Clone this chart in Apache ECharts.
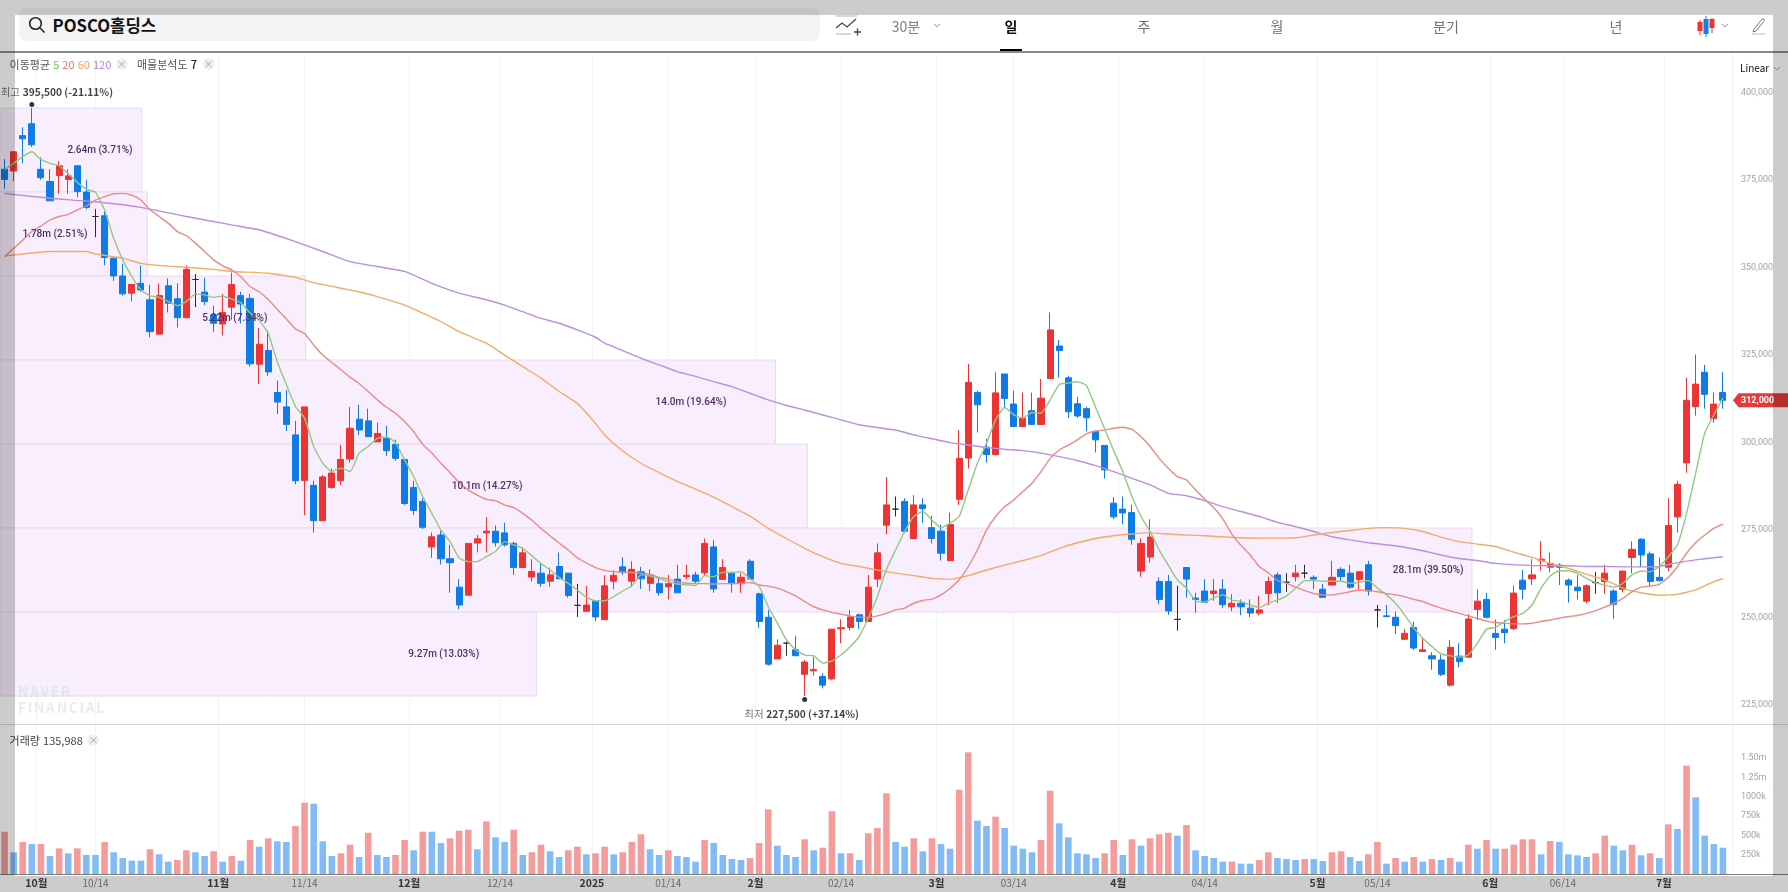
<!DOCTYPE html>
<html lang="ko"><head><meta charset="utf-8">
<title>POSCO홀딩스</title>
<script src="https://cdn.jsdelivr.net/npm/echarts@6/dist/echarts.min.js"></script>
<style>
html,body{margin:0;padding:0;background:#fff;width:1788px;height:892px;overflow:hidden;font-family:"Noto Sans CJK KR","Noto Sans",sans-serif}
#chart{position:absolute;left:0;top:0;width:1788px;height:892px}
.t{position:absolute;white-space:nowrap;line-height:1;transform:translate(-50%,-50%)}
.l{position:absolute;white-space:nowrap;line-height:1}
.x{position:absolute;width:12px;height:12px;border-radius:50%;background:#f1f1f3;color:#a8a8a8;font-size:10px;line-height:12px;text-align:center;transform:translate(-50%,-50%)}
.o{position:absolute;background:rgba(0,0,0,.2)}
svg{position:absolute}
</style></head><body>
<div id="chart"></div>
<div class="l" style="left:19px;top:8px;width:801px;height:33px;background:#f2f4f6;border-radius:7px"></div>
<svg style="left:27px;top:15px" width="20" height="20" viewBox="0 0 20 20" fill="none" stroke="#222" stroke-width="1.6"><circle cx="8.5" cy="8.5" r="5.8"/><path d="M13 13l4.5 4.5"/></svg>
<div class="l" style="left:52.5px;top:17px;font-size:16.7px;font-weight:700;color:#111">POSCO홀딩스</div>
<svg style="left:835px;top:15px" width="26" height="22" viewBox="0 0 26 22" fill="none" stroke="#444" stroke-width="1.3"><path d="M1 1h21M1 19h15" stroke="#ccc"/><path d="M1 13l6-5 5 4 9-8"/><path d="M19 17h7M22.5 13.5v7"/></svg>
<div class="t" style="left:906px;top:26px;font-size:14px;color:#7c7f84">30분</div>
<svg style="left:933px;top:23px" width="8" height="6"><path d="M1 1l3 3 3-3" fill="none" stroke="#999"/></svg>
<div class="t" style="left:1011px;top:26px;font-size:14px;font-weight:700;color:#111">일</div>
<div class="l" style="left:1000px;top:48.5px;width:22px;height:3.5px;background:#000"></div>
<div class="t" style="left:1144px;top:26px;font-size:14px;color:#6e7176">주</div>
<div class="t" style="left:1277px;top:26px;font-size:14px;color:#6e7176">월</div>
<div class="t" style="left:1446px;top:26px;font-size:14px;color:#6e7176">분기</div>
<div class="t" style="left:1616px;top:26px;font-size:14px;color:#6e7176">년</div>
<svg style="left:1696px;top:15px" width="20" height="22"><path d="M4 5v15M16 3v15" stroke="#e33" /><rect x="1.5" y="7" width="5" height="9" fill="#ec3434"/><rect x="13.5" y="4" width="5" height="9" fill="#ec3434"/><path d="M10 1v21" stroke="#1380e8"/><rect x="7.5" y="4" width="5" height="15" fill="#1380e8"/></svg>
<svg style="left:1721px;top:23px" width="8" height="6"><path d="M1 1l3 3 3-3" fill="none" stroke="#999"/></svg>
<svg style="left:1751px;top:17px" width="16" height="18" fill="none" stroke="#777" stroke-width="1"><path d="M3 12L11 2c1-1 3 .5 2 2L5 14l-3 1z"/><path d="M1 17h13" stroke="#bbb"/></svg>
<div class="l" style="left:0;top:51px;width:1788px;height:1.5px;background:#8a8a8a"></div>

<div class="l" style="left:9.6px;top:58.5px;font-size:11px;color:#555">이동평균 <span style="color:#76bd62">5</span> <span style="color:#ea6f6a">20</span> <span style="color:#f0a455">60</span> <span style="color:#b283d6">120</span></div>
<div class="x" style="left:121.7px;top:64px">×</div>
<div class="l" style="left:137px;top:58.5px;font-size:11px;color:#555">매물분석도 <b style="color:#222;font-weight:500">7</b></div>
<div class="x" style="left:208.6px;top:64px">×</div>
<div class="l" style="left:1740px;top:63px;font-size:10px;color:#111">Linear</div>
<svg style="left:1773px;top:66px" width="8" height="6"><path d="M1 1l3 3 3-3" fill="none" stroke="#aaa"/></svg>
<div class="l" style="left:18px;top:683px;font-size:14px;line-height:16px;font-weight:700;color:rgba(212,220,228,.55);letter-spacing:1.6px">NAVER<br>FINANCIAL</div>
<div class="l" style="left:0;top:723.5px;width:1788px;height:1.5px;background:#d6d6e2"></div>
<div class="l" style="left:9.6px;top:734.5px;font-size:11px;color:#444">거래량 135,988</div>
<div class="x" style="left:93.4px;top:740px">×</div>
<div class="l" style="left:0;top:873.5px;width:1788px;height:1.2px;background:#7c7c7c"></div>
<div class="l" style="left:0;top:876px;width:1788px;height:16px;background:#eceff3;z-index:-1"></div>
<div class="o" style="left:0;top:0;width:1788px;height:15px"></div>
<div class="o" style="left:0;top:876px;width:1788px;height:16px"></div>
<div class="o" style="left:0;top:15px;width:15px;height:861px"></div>
<div class="o" style="left:1773px;top:15px;width:15px;height:861px"></div>
<script>
// Prices are in thousands of won.
const opens=[378,377.5,387.6,391,378,374.5,376.2,375.1,379,371.5,364.5,364.7,352.6,347.5,342.6,345.4,340.7,330.9,344.7,341,335.6,346.5,342.9,336.4,333.8,338.6,341.9,341.1,322.3,326.2,314.2,310.1,302.1,289.1,287.7,277.6,287.1,289,295.2,306.6,306.1,300.1,301.1,299.4,295.1,287.1,283.1,270.1,273.5,266.7,258.6,256.3,271.2,274.1,274.6,274.1,271.1,264.2,261.5,262.6,260.3,264.5,262.6,253.4,251.7,254.6,249.3,260.3,264.4,260.3,263,259.7,259.6,258.7,260.9,261.6,262.1,262.7,270.1,260.8,262.6,259.6,266,256.7,250,238.1,242.6,240.7,233.7,234.7,233.1,232.4,246.7,247.1,250.7,248.8,260.9,276.3,280.9,283.1,272.5,282.1,275.6,274.6,266.2,283.7,295.5,314.2,298.6,296.5,319.5,310.9,304.5,309,305.1,318.2,327.5,318.4,311,309.6,303.1,299.1,282.6,280.9,279.9,263.2,267.2,260.2,260.2,249.4,264.2,255.5,257.5,256.8,258,253,254,252.6,251.2,256.8,262.1,260,261.6,262.6,261.4,258,259.2,263.7,262.6,260.8,265,252.1,250.4,250,243.7,247.1,240.2,239,237.8,230.6,238.9,238.6,252.2,255.1,245.4,246.6,246.8,260.6,261,266.2,264.3,264.9,260.6,258.6,254.6,259.9,260.2,257.5,258,267.1,272.3,268.1,261.4,264.3,278.7,294.1,310.2,320,306.8,314.2];
const closes=[375.1,383,386.7,385,375.6,369,379,376.1,371.6,367.1,364.5,352.8,347.5,342.4,345.1,343.5,331.6,341.9,339.7,335.6,349.4,346.5,340.2,334,337.1,345.1,339.5,322.4,328,320.1,311.5,305.1,289,310.1,277.6,290.1,291.2,295.1,304,303.5,301.6,302.5,297.6,295.4,282.5,280.5,275.7,273,266.7,265.6,253.5,271.1,272.4,274.6,271.3,270.7,264.2,268.4,263.1,259.7,262.1,261,256.2,253.4,253.5,250.1,259,262,262.8,263.7,261,262.1,257,259.6,257,262,260.3,271.1,258.1,264.2,259.6,261.4,260.9,248.8,236.6,242,242.6,239,237.2,235.1,230.6,246.6,247,250.1,248.8,258.6,268.4,282.1,280.9,274.6,282.1,281,272.5,268.3,276.5,295.4,317.1,310.7,296.5,314.1,312.5,304.5,306.9,305.1,312.6,332.1,326.2,308.7,307.5,307,300.7,292.1,278.7,279.8,272.3,271.1,272.9,255.1,251.8,249.4,260.9,255.1,254.3,257.5,253.6,254,253,251.2,252.1,260.2,257,260,262.6,262.6,260.9,255.7,261.4,261.6,258.6,263,257.5,252.1,250.2,247.6,245.4,241.2,240.7,238.1,233.7,241.4,237.3,249.5,254.6,250,244.2,245.6,256.9,258,262.1,266.6,265.4,264.3,259.2,257.6,259,259.9,262.6,253.7,263.2,269.4,267.8,260.2,260.5,276.2,288,312,316.6,313.7,310.9,312];
const lows=[372.4,374.6,379.7,384.4,375,369,371,371,370,366.6,358.6,350.6,346.1,341.9,340.2,343,330,330.6,337.1,332.8,335.6,338.6,339.2,331.6,330.5,335,334,321.6,316.6,319,308.1,303.2,288,279.2,274.2,277.6,286.7,287.8,294.2,302.1,301.6,300.1,296.1,294.7,282.1,279.2,275.2,267,265.1,257,252.3,256.3,268.5,268.5,270.2,270.2,262.1,264.2,260.2,258.7,258.7,260.9,255.6,250.1,251.6,248.8,249.3,258,262.1,258.6,258.1,257.5,256.2,255.1,257,260.9,259.5,261.9,257,260.8,257,257,260.7,247,236.2,238.1,239,239,227.5,233.3,229.7,232.1,242.6,246.2,246.7,248.8,258.6,273.7,278.8,274,272.3,277,271.1,266.2,266.2,282.1,292.5,302.8,294.2,296.2,309.7,304.5,304.5,305.1,305.1,318.2,318.5,307,307,303.2,297.1,289.6,278.1,276.6,270.7,261.6,265.6,253.7,250.7,246.2,255.6,251.3,254.3,254.7,252.7,251.7,250.6,250,250.6,253.5,254.1,257.2,260.2,261.1,258,255.7,259.2,260.2,258.2,258,256.2,247.1,250,245.2,243.7,240.7,240.2,235,233.2,230.2,235.7,238.6,249.2,249.6,240.7,242.6,246.4,255.1,259.2,263.3,262.8,259.2,254.2,255.1,254,256.7,256.7,249.6,257.1,262.6,264.3,258.9,260.2,263.2,274.2,291.3,307.6,309.6,305.6,309.6];
const highs=[380.9,383,390,395.5,381.4,378,380.3,378,379,375,366.6,365.9,352.8,351,345.1,350.5,345,345.4,346.8,345.4,350.5,348.1,347,339,342.4,348.5,343,342.4,332.6,331.9,317.6,314.9,306.1,310.1,289,290.7,292.5,299.2,310.1,310.7,309.6,305.6,304.7,300.7,295.1,289,284,274.2,274.7,270.7,260.9,271.1,273.5,278.6,276.2,277,271.6,270,266.6,265.4,264.2,268.5,262.6,259.5,259,254.6,262,263.4,267.1,266,264.4,263.7,261.4,262.1,265,265,263,272.5,272.1,266.6,263,262.6,266.6,257,252.1,243.7,243,244.7,237.8,238.6,234,246.6,249.4,252.1,251.1,262.1,271.1,290,284.5,284,284.9,284,279,276.4,279.9,303.5,322.4,314.7,301,320,319.5,314.7,314.2,314.2,318.1,337.1,329.2,319,313,310.2,303.1,299.1,284.3,284.5,282.1,272.5,278,261.4,262.1,259,264.2,257,260.9,260.9,260.9,256.6,255.1,255.1,256.1,261.6,262.8,262.6,265,265,262,259.5,266.1,264.3,265,263,266.1,253.5,253.5,251.6,246.6,248.7,244.2,240,239.2,243.5,242.6,250.9,258,257,249.4,249.2,259,263.5,266.6,271.7,268.5,265.4,261.1,262.1,259.4,263,265,258,263.2,271.7,272.5,268.8,267.1,284,289,318.5,325.1,322.1,314.2,320];
// Volumes in thousands of shares and the colour each bar has (R red, B blue).
const volumes=[548,281,415,389,389,233,332,268,332,246,246,415,281,207,173,173,320,255,160,181,307,281,233,294,160,233,173,440,354,462,423,415,622,924,911,423,233,268,380,220,535,246,220,246,440,307,548,548,402,462,561,574,320,682,475,415,574,246,281,380,294,220,307,354,255,268,354,255,281,415,514,320,246,307,233,220,160,440,402,246,194,181,207,402,838,367,246,220,449,307,341,812,268,268,181,527,596,1045,415,354,462,294,462,389,328,1092,1576,691,622,743,596,367,328,281,440,1080,656,475,268,255,207,268,440,246,449,367,462,514,535,497,635,307,233,207,160,160,134,134,181,281,207,194,181,194,194,168,281,294,220,168,255,415,134,207,160,220,160,194,181,207,160,380,328,440,328,328,380,449,449,255,427,415,255,242,220,268,497,367,307,380,242,268,207,643,583,1403,993,497,389,341];
const volumeSides=("RBRBRBRBRB"+"BRBBBBRBBR"+"RBBRBRBRBR"+"BBRRBBBRRB"+"RBBRRBRBBR"+"RRBRBBRBRR"+"BBRRBRRBRR"+"RBBRBBBRBB"+"BBRRRBBBRB"+"RRBRBRRRBB"+"RBRBBRRBBR"+"BBBBRRBBBB"+"BRRBRBRRRB"+"RBBBBRBBRR"+"BBBRBBRRBB"+"RRBRBRBRBR"+"BRBRBRRRRB"+"RBBBBRRBBR"+"BRBRBRBBBB").split('');
const ma5=[377.8,379.7,381.6,383,380.8,379.7,379,376.8,374.2,372.3,371.4,366.4,358.3,352.1,347.3,343.5,341.8,341.4,340.2,339,340.2,342.4,342.1,341.4,341.8,340.9,339.9,336.9,334.9,331.1,323,316.4,310.2,306.9,298.8,294,291.6,292.6,291.6,296.9,298.8,301.1,301.6,299.9,295,290.2,284.5,279.7,274.9,271.6,266.9,265.9,265.9,267.3,268.8,271.6,270.7,269.7,267.6,265.4,263.5,261.4,259.7,257.8,255.7,254.7,254.7,255.9,257.5,259,262.1,261.8,261.1,260.2,259.5,259.3,259.1,261.9,261.6,262.9,262.8,263,260.9,258.8,253,248.3,243.5,240.7,239.2,239,236.9,237.5,239.2,241.6,244.5,249.7,255.9,263.7,269.2,274.5,278.8,280.2,277.8,275.6,276.9,278.8,286.4,294,299.7,306.4,310,307.8,306.9,308.5,308.3,312.1,316.5,316.9,317.3,316.2,310,303.8,297.6,291.6,284.5,278.8,274.5,269.2,264.9,260.7,258.3,254.7,254.4,255.5,256.4,254.9,254.5,253.5,252.8,254,254.9,256.1,258.3,260.5,260.5,260.3,260.3,260.3,259.7,260,260.5,258.3,256.4,254,250.7,246.9,244,241.6,239.5,239,238.6,239.2,242.6,246.6,247.1,248.8,250.2,251.1,253.5,258.3,261.8,263.3,263.3,262.6,261.1,259.9,259.2,258.6,259.7,262.1,263.2,263,264.5,267.3,270.7,279.7,291.1,302.6,307.8,312.6];
const ma20=[353,355.4,357.8,360.2,361.8,363.5,364.5,365.1,366.4,367.5,369.2,370.2,371,371.1,370.6,369.2,366.4,364.5,362.6,360.2,359,356.9,354.5,352.1,350.4,349.2,347.3,344.5,343,340.8,338,335.2,332.4,331,327.8,324.9,322.8,320.7,318.6,316.8,314.5,312.1,310,308.3,305.9,303,299.4,296.9,294,291.3,288.5,286.4,284.9,283.7,283.3,282.1,281.3,279.7,277.7,275.4,273.3,271.2,269.2,267,265.5,264.2,263.4,263,262.9,262.8,262.6,262.3,261.4,260.9,260.1,259.7,259.6,259.6,259.5,259.6,259.6,259.7,259.9,259.2,258.9,258.3,257.3,256.1,254.5,253,252.1,251.4,250.9,250.4,250,249.9,250.4,251.1,252.1,252.6,254,254.8,255.2,256.4,258.3,260.7,264.5,269.2,274.9,278.8,281.6,283.5,285.9,288.3,291.6,295.4,297.8,299.2,300.7,302.4,303.2,303.5,304,304.3,303.7,301.6,298.8,295.4,292.6,290.2,289.2,286.4,283.7,281.3,278.1,273.7,270.5,267.8,264.5,262.7,260.5,259.7,258.6,257.6,256.8,256.4,256.4,256.8,257.3,257.8,257.6,257.3,256.8,256.4,255.9,255.1,254.5,253.5,252.6,251.8,251.1,250.4,249.7,248.9,248.5,248.3,248.1,248.1,248.3,248.8,249.2,249.7,250.2,250.5,251.1,251.9,252.9,254,255.4,257.3,258.6,258.9,259.4,261.4,264.5,268.3,271.3,273.5,275.4,276.6];
const ma60=[[0,353.2],[5,354.5],[9,354.5],[10,353.8],[13,352.6],[15,351.1],[17,350.5],[20,350],[23,349.4],[25,348.8],[29,348.3],[32,347.1],[34,345.6],[37,344],[39,343],[41,341.6],[44,339.2],[46,336.9],[48,334.5],[50,331.6],[53,328.3],[55,324.9],[57,321.6],[59,318.3],[61,314.5],[63,311.1],[65,305.4],[66,302.1],[68,297.5],[70,294],[72,291.3],[74,288.8],[76,286.6],[78,284.3],[80,281.6],[82,278.9],[84,275.4],[86,272.5],[88,269.7],[90,267.3],[92,265.4],[94,264.5],[96,263.5],[98,262.6],[100,261.9],[102,261.1],[104,260.9],[106,261.9],[108,263.5],[110,264.9],[112,266.2],[114,267.6],[116,269.7],[118,271.3],[120,272.5],[122,273.3],[124,273.8],[126,274.1],[128,273.8],[130,273.5],[132,273.3],[136,272.7],[140,272.6],[142,272.7],[144,273.5],[146,274.2],[148,274.8],[150,275.4],[152,275.6],[154,275.4],[156,274.5],[158,272.9],[160,271.6],[162,270.9],[164,270.2],[166,268.6],[168,267.1],[170,265.4],[172,264],[174,262.3],[176,260.7],[178,258.3],[180,257],[182,256.3],[184,256.6],[186,257.8],[188,260.2],[189,261]];
const ma120=[[0,371.1],[5,369.7],[10,368.7],[15,367.1],[20,364.5],[25,362.1],[28,360.7],[32,357.3],[35,354.5],[38,351.6],[41,350.2],[44,348.8],[47,345.4],[50,342.6],[53,340.7],[55,339.2],[57,337.3],[59,335.4],[61,334],[63,332.1],[65,330],[66,328.3],[68,326.2],[70,324],[72,322.1],[74,320.2],[76,318.8],[78,317.3],[80,315.9],[82,314],[84,312.1],[86,310.5],[88,309.2],[90,307.8],[92,306.4],[94,305],[96,304.2],[98,303.5],[100,302.1],[102,301],[104,299.9],[106,299.2],[108,298.5],[110,298],[112,297.6],[114,296.9],[116,295.9],[118,294.8],[120,293.3],[122,291.6],[124,289.7],[126,287.8],[128,285.4],[130,284.7],[132,283.3],[134,281.6],[136,280.2],[138,278.8],[140,277.1],[142,275.9],[144,274.5],[146,273],[148,272.1],[150,271.3],[152,270.7],[154,270],[156,269],[158,267.8],[160,266.8],[162,266.2],[164,265.4],[166,265],[168,264.8],[170,264.7],[172,264.7],[174,264.5],[176,264.5],[178,264.4],[180,264.4],[182,264.5],[184,265.6],[186,266.4],[188,267],[189,267.3]];
const categories=lows.map((_,i)=>String(i));
// Volume profile bins: price edges, traded volume and share, and how far each box runs along the candle index.
const profileEdges=[395.5,371.5,347.5,323.5,299.5,275.5,251.5,227.5];
const profileVolumes=[2.64,1.78,5.22,14.0,10.1,28.1,9.27];
const profileLabels=['2.64m (3.71%)','1.78m (2.51%)','5.22m (7.34%)','14.0m (19.64%)','10.1m (14.27%)','28.1m (39.50%)','9.27m (13.03%)'];
const profileReach=[15.1,15.7,33.1,84.8,88.3,161.4,58.5];
// Axis ticks.
const dateTickAt=[3.5,10,23.5,33,44.5,54.5,64.6,73,82.6,92,102.5,111,122.5,132,144.4,151,163.4,171.4,182.5];
const dateTickText=['10월','10/14','11월','11/14','12월','12/14','2025','01/14','2월','02/14','3월','03/14','4월','04/14','5월','05/14','6월','06/14','7월'];
const priceTicks=[225,250,275,300,325,350,375,400];
const volumeTicks=[250,500,750,1000,1250,1500];
const volumeTickText=['250k','500k','750k','1000k','1.25m','1.50m'];
const lastPrice=312000, highPrice=395500, lowPrice=227500;

const FONT='"Noto Sans CJK KR","Noto Sans",sans-serif';
const K=v=>v*1000;
const RED='#ee3333',BLUE='#0f7be6';
const candles=opens.map((o,i)=>[K(o),K(closes[i]),K(lows[i]),K(highs[i])]);
const volData=volumes.map((v,i)=>({value:K(v),itemStyle:{color:volumeSides[i]==='R'?'#f49b9c':'#82bbf5'}}));
const line=(name,data,color)=>({name,type:'line',xAxisIndex:0,yAxisIndex:0,data,showSymbol:false,symbol:'none',z:4,silent:true,
  smooth:0.15,lineStyle:{color,width:1.4}});
const fmtDate=v=>{const i=dateTickAt.indexOf(+v);const s=dateTickText[i];if(s===undefined)return '';return /월|2025/.test(s)?'{m|'+s+'}':'{d|'+s+'}';};

const chart=echarts.init(document.getElementById('chart'),null,{renderer:'canvas'});
const indexAxis=(gridIndex,showLabel)=>({type:'value',gridIndex,min:-0.5,max:categories.length-0.5,position:'bottom',
  axisLine:{show:false},axisTick:{show:false,customValues:dateTickAt},
  splitLine:{show:true,lineStyle:{color:'#f3f4f6',width:1}},
  axisLabel:{show:showLabel,customValues:dateTickAt,formatter:fmtDate,margin:4,hideOverlap:false,
    rich:{m:{fontFamily:FONT,fontSize:10.5,fontWeight:700,color:'#3f4246'},d:{fontFamily:FONT,fontSize:10,color:'#7f8388'}}}});
chart.setOption({
  animation:false,backgroundColor:'transparent',
  grid:[{left:-1.55,right:60.55,top:52,height:672},{left:-1.55,right:60.55,top:724,height:150}],
  xAxis:[
    {type:'category',gridIndex:0,data:categories,axisLine:{show:false},axisTick:{show:false},axisLabel:{show:false},splitLine:{show:false}},
    {type:'category',gridIndex:1,data:categories,axisLine:{show:false},axisTick:{show:false},axisLabel:{show:false},splitLine:{show:false}},
    indexAxis(0,false),
    indexAxis(1,true)
  ],
  yAxis:[
    {type:'value',gridIndex:0,position:'right',min:219500,max:411500,scale:true,splitLine:{show:false},axisLine:{show:false},axisTick:{show:false},
      axisLabel:{customValues:priceTicks.map(K),margin:13.5,fontFamily:'Roboto',fontSize:9,color:'#9fa3a9',formatter:v=>Number(v).toLocaleString('en-US')}},
    {type:'value',gridIndex:1,position:'right',min:0,max:1943000,splitLine:{show:false},axisLine:{show:false},axisTick:{show:false},
      axisLabel:{customValues:volumeTicks.map(K),margin:13.5,fontFamily:'Roboto',fontSize:9,color:'#9fa3a9',
        formatter:v=>volumeTickText[volumeTicks.indexOf(v/1000)]||''}}
  ],
  graphic:[{type:'line',silent:true,z:0,shape:{x1:1732.6,y1:52,x2:1732.6,y2:874},style:{stroke:'#eef0f3',lineWidth:1}}],
  series:[
    {type:'custom',name:'매물분석도',xAxisIndex:2,yAxisIndex:0,z:1,silent:true,clip:false,
      data:profileVolumes.map((v,i)=>[profileReach[i],K(profileEdges[i]),K(profileEdges[i+1])]),
      encode:{x:0,y:[1,2]},
      renderItem:(p,api)=>{
        const a=api.coord([-0.5,api.value(1)]),b=api.coord([api.value(0),api.value(2)]);
        return {type:'rect',shape:{x:a[0],y:a[1],width:b[0]-a[0],height:b[1]-a[1]},
          style:{fill:'#f9eefd',stroke:'#e9dbf2',lineWidth:1}};
      }},
    {type:'candlestick',name:'일봉',xAxisIndex:0,yAxisIndex:0,z:3,barWidth:6.6,silent:true,clip:false,data:candles,
      itemStyle:{color:RED,color0:BLUE,borderColor:RED,borderColor0:BLUE,borderColorDoji:'#2a2a2a',borderWidth:1}},
    line('MA120',ma120.map(([i,v])=>[i,K(v)]),'#bb8fdb'),
    line('MA60',ma60.map(([i,v])=>[i,K(v)]),'#f3ab68'),
    line('MA20',ma20.map(K),'#ea8a86'),
    line('MA5',ma5.map(K),'#93c883'),
    {type:'custom',name:'매물분석도 라벨',xAxisIndex:2,yAxisIndex:0,z:6,silent:true,clip:false,
      data:profileVolumes.map((v,i)=>[v*5.75,(K(profileEdges[i])+K(profileEdges[i+1]))/2,i]),
      encode:{x:0,y:1},
      renderItem:(p,api)=>{
        const c=api.coord([api.value(0),api.value(1)]);
        return {type:'text',style:{x:c[0]-10,y:c[1],text:profileLabels[api.value(2)],align:'right',verticalAlign:'middle',
          font:'500 10px Roboto',fill:'#4f2f66'}};
      }},
    {type:'scatter',name:'최고',xAxisIndex:0,yAxisIndex:0,z:6,silent:true,clip:false,symbol:'circle',symbolSize:5,symbolOffset:[0,-3.5],
      itemStyle:{color:'#000'},data:[[3,highPrice]],
      label:{show:true,position:'top',distance:1,offset:[25,-3],fontFamily:FONT,
        formatter:'{a|최고} {b|395,500 (-21.11%)}',rich:{a:{fontSize:10.5,color:'#555',fontFamily:FONT},b:{fontSize:10.2,color:'#111',fontWeight:700,fontFamily:FONT}}}},
    {type:'scatter',name:'최저',xAxisIndex:0,yAxisIndex:0,z:6,silent:true,clip:false,symbol:'circle',symbolSize:5,symbolOffset:[0,3.5],
      itemStyle:{color:'#000'},data:[[88,lowPrice]],
      label:{show:true,position:'bottom',distance:1,offset:[-3,5],fontFamily:FONT,
        formatter:'{a|최저} {b|227,500 (+37.14%)}',rich:{a:{fontSize:10.5,color:'#555',fontFamily:FONT},b:{fontSize:10.2,color:'#111',fontWeight:700,fontFamily:FONT}}}},
    {type:'custom',name:'현재가',xAxisIndex:2,yAxisIndex:0,z:7,silent:true,clip:false,data:[[189,lastPrice]],encode:{x:0,y:1},
      renderItem:(p,api)=>{
        const y=api.coord([api.value(0),api.value(1)])[1];
        return {type:'group',children:[
          {type:'polygon',shape:{points:[[1733,y],[1738.5,y-7],[1788,y-7],[1788,y+7],[1738.5,y+7]]},style:{fill:'#e53a3a'}},
          {type:'text',style:{x:1741,y,text:Number(api.value(1)).toLocaleString('en-US'),align:'left',verticalAlign:'middle',font:'700 9px Roboto',fill:'#fff'}}
        ]};
      }},
    {type:'bar',name:'거래량',xAxisIndex:1,yAxisIndex:1,barWidth:6.6,silent:true,data:volData}
  ]
});
</script>
</body></html>
